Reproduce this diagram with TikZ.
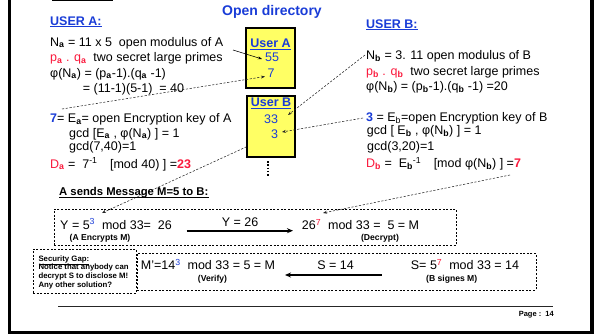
\documentclass[tikz,border=0pt]{standalone}
\usepackage{fontspec}
\setmainfont{Liberation Sans}
\usetikzlibrary{arrows.meta,backgrounds}
\definecolor{cblue}{RGB}{25,60,215}
\definecolor{cred}{RGB}{250,25,60}
\definecolor{cyel}{RGB}{255,255,100}
\newcommand{\sbb}[1]{\textsubscript{\textbf{#1}}}
\newcommand{\spp}[1]{\textsuperscript{#1}}
\begin{document}
\begin{tikzpicture}[x=1pt,y=-1pt,
  txt/.style={inner sep=0pt, anchor=base west, font=\fontsize{12.5}{14}\selectfont},
  ctxt/.style={txt, anchor=base},
  small/.style={inner sep=0pt, anchor=base, font=\fontsize{8.6}{10}\bfseries\selectfont},
  gap/.style={inner sep=0pt, anchor=base west, font=\fontsize{7.8}{9}\bfseries\selectfont},
  hdr/.style={txt, font=\fontsize{12.5}{14}\bfseries\selectfont, text=cblue},
  boxtxt/.style={ctxt, text=cblue},
  ulblue/.style={draw=cblue, line width=1.1pt},
  ulblack/.style={draw=black, line width=0.9pt},
  dirbox/.style={draw=black, line width=1.4pt, fill=cyel, inner sep=0pt},
  dbox/.style={draw=black, line width=0.8pt, dash pattern=on 2pt off 1.6pt, inner sep=0pt},
  link/.style={draw=black!85, line width=0.55pt, dash pattern=on 2.2pt off 1.6pt, -{Stealth[length=4pt,width=3pt]}},
  solidlink/.style={draw=black, line width=0.55pt, -{Stealth[length=4pt,width=3pt]}},
  bigarrow/.style={draw=black, line width=1.6pt, -{Stealth[length=6pt,width=5pt]}}
]
\useasboundingbox (0,0) rectangle (597,335);
% slide frame
\draw[line width=3.6pt] (9.3,-10) rectangle (592,332.5);
\draw[line width=1.5pt] (52,0.4) -- (113,0.4);

% title
\node[inner sep=0pt, anchor=base, font=\fontsize{14}{16}\bfseries\selectfont, text=cblue] (title) at (272,15) {Open directory};

% USER A
\node[hdr] (usera) at (50,25) {USER A:};
\draw[ulblue] ([yshift=-1.6pt]usera.base west) -- ([yshift=-1.6pt]usera.base east);
\node[txt] (la1) at (50,46) {N\sbb{a} = 11 x 5\ \ open modulus of A};
\node[txt] (la2) at (50,61.5) {{\color{cred}p\sbb{a} . q\sbb{a}}\ \ two secret large primes};
\node[txt] (la3) at (50,77) {φ(N\sbb{a}) = (p\sbb{a}-1).(q\sbb{a} -1)};
\node[txt] (la4) at (82.7,92) {= (11-1)(5-1)\ \ = 40};
\node[txt] (la5) at (50,122.5) {{\color{cblue}\textbf{7}}= E\sbb{a}= open Encryption key of A};
\node[txt] (la6) at (69,137) {gcd [E\sbb{a} , φ(N\sbb{a}) ] = 1};
\node[txt] (la7) at (69,150.5) {gcd(7,40)=1};
\node[txt] (la8) at (50,168) {{\color{cred}D\sbb{a}} =\ \ 7\spp{-1}\quad [mod 40) ] ={\color{cred}\textbf{23}}};

% USER B
\node[hdr] (userb) at (366,28) {USER B:};
\draw[ulblue] ([yshift=-1.6pt]userb.base west) -- ([yshift=-1.6pt]userb.base east);
\node[txt] (lb1) at (366,59) {N\sbb{b} = 3. 11 open modulus of B};
\node[txt] (lb2) at (366,75) {{\color{cred}p\sbb{b} . q\sbb{b}}\ \ two secret large primes};
\node[txt] (lb3) at (366,90) {φ(N\sbb{b}) = (p\sbb{b}-1).(q\sbb{b} -1) =20};
\node[txt] (lb4) at (366,121.7) {{\color{cblue}\textbf{3}} = E\textsubscript{b}=open Encryption key of B};
\node[txt] (lb5) at (366.7,134.5) {gcd [ E\sbb{b} , φ(N\sbb{b}) ] = 1};
\node[txt] (lb6) at (367,150.5) {gcd(3,20)=1};
\node[txt] (lb7) at (366,167.7) {{\color{cred}D\sbb{b}} =\ \ E\sbb{b}\spp{-1}\quad [mod φ(N\sbb{b}) ] ={\color{cred}\textbf{7}}};

% open directory boxes
\node[dirbox, minimum width=49pt, minimum height=60pt] (boxA) at (270.5,58) {};
\node[dirbox, minimum width=48pt, minimum height=61pt] (boxB) at (271,126.5) {};
\node[boxtxt, font=\fontsize{12.5}{14}\bfseries\selectfont] (tA) at (270.5,47.3) {User A};
\draw[ulblue] ([yshift=-1.8pt]tA.base west) -- ([yshift=-1.8pt]tA.base east);
\node[boxtxt] (n55) at (272,61.7) {55};
\node[boxtxt] (n7) at (271,77.3) {7};
\node[boxtxt, font=\fontsize{12.5}{14}\bfseries\selectfont] (tB) at (271,106.7) {User B};
\draw[ulblue] ([yshift=-1.8pt]tB.base west) -- ([yshift=-1.8pt]tB.base east);
\node[boxtxt] (n33) at (271,123.3) {33};
\node[boxtxt] (n3) at (274.5,138.3) {3};
\coordinate (dotA) at (268,161);
\coordinate (dotB) at (268,177);
\draw[line width=2pt, dash pattern=on 1.5pt off 1.8pt] (dotA) -- (dotB);

% message section
\node[txt, font=\fontsize{11.3}{13}\bfseries\selectfont] (msg) at (59,195.7) {A sends Message M=5 to B:};
\draw[ulblack] ([yshift=-1.8pt]msg.base west) -- ([yshift=-1.8pt]msg.base east);

\node[dbox, minimum width=402pt, minimum height=36.5pt] (box1) at (255,227.25) {};
\node[dbox, minimum width=103pt, minimum height=44pt] (secbox) at (84.5,271) {};
\node[dbox, minimum width=399pt, minimum height=36.5pt] (box2) at (336.5,271.75) {};

\node[txt] (enc) at (60,229.3) {Y = 5\spp{\color{cblue}3}\ \ mod 33=\ \ 26};
\node[small] (encl) at (100,240) {(A Encrypts M)};
\node[ctxt] (y26) at (240,226) {Y = 26};
\coordinate (ar1s) at (186.7,230.7);
\coordinate (ar1e) at (293,230.7);
\draw[bigarrow] (ar1s) -- (ar1e);
\node[txt] (dec) at (301.7,229.5) {26\spp{\color{cred}7}\ \ mod 33 =\ \ 5 = M};
\node[small] (decl) at (380,240.5) {(Decrypt)};

\node[gap] (s1) at (38.3,261) {\underline{Security Gap:}};
\node[gap] (s2) at (38.3,269.7) {Notice that anybody can};
\node[gap] (s3) at (38.3,278.4) {decrypt S to disclose M!};
\node[gap] (s4) at (38.3,287.1) {Any other solution?};

\node[txt] (ver) at (140.7,269.5) {M'=14\spp{\color{cblue}3}\ \ mod 33 = 5 = M};
\node[small] (verl) at (212.5,281.5) {(Verify)};
\node[ctxt] (s14) at (335.5,269.5) {S = 14};
\coordinate (ar2s) at (381.7,275);
\coordinate (ar2e) at (285,275);
\draw[bigarrow] (ar2s) -- (ar2e);
\node[txt] (sig) at (410.7,269.5) {S= 5\spp{\color{cred}7}\ \ mod 33 = 14};
\node[small] (sigl) at (451.7,281.5) {(B signes M)};

% footer
\coordinate (fl) at (58,306.7);
\coordinate (fr) at (553,306.7);
\draw[line width=1.4pt, black!85] (fl) -- (fr);
\node[inner sep=0pt, anchor=base east, font=\fontsize{7.5}{9}\bfseries\selectfont] (page) at (554,316) {Page :\ \ 14};

% connectors
\coordinate (c1s) at (233,50);
\coordinate (c1e) at (262,59);
\draw[solidlink] (c1s) -- (c1e);
\coordinate (c2s) at (62,109);
\coordinate (c2e) at (265,76.5);
\draw[link] (c2s) -- (c2e);
\coordinate (c3s) at (365,55);
\coordinate (c3e) at (288,115);
\draw[link] (c3s) -- (c3e);
\coordinate (c4s) at (363,118);
\coordinate (c4e) at (282,132);
\draw[link] (c4s) -- (c4e);
\coordinate (c5e) at (102,213);
\begin{scope}[on background layer]
\draw[link] (n3) -- (c5e);
\end{scope}
\coordinate (c6s) at (510,175);
\coordinate (c6e) at (323,213);
\draw[link] (c6s) -- (c6e);
\end{tikzpicture}
\end{document}
